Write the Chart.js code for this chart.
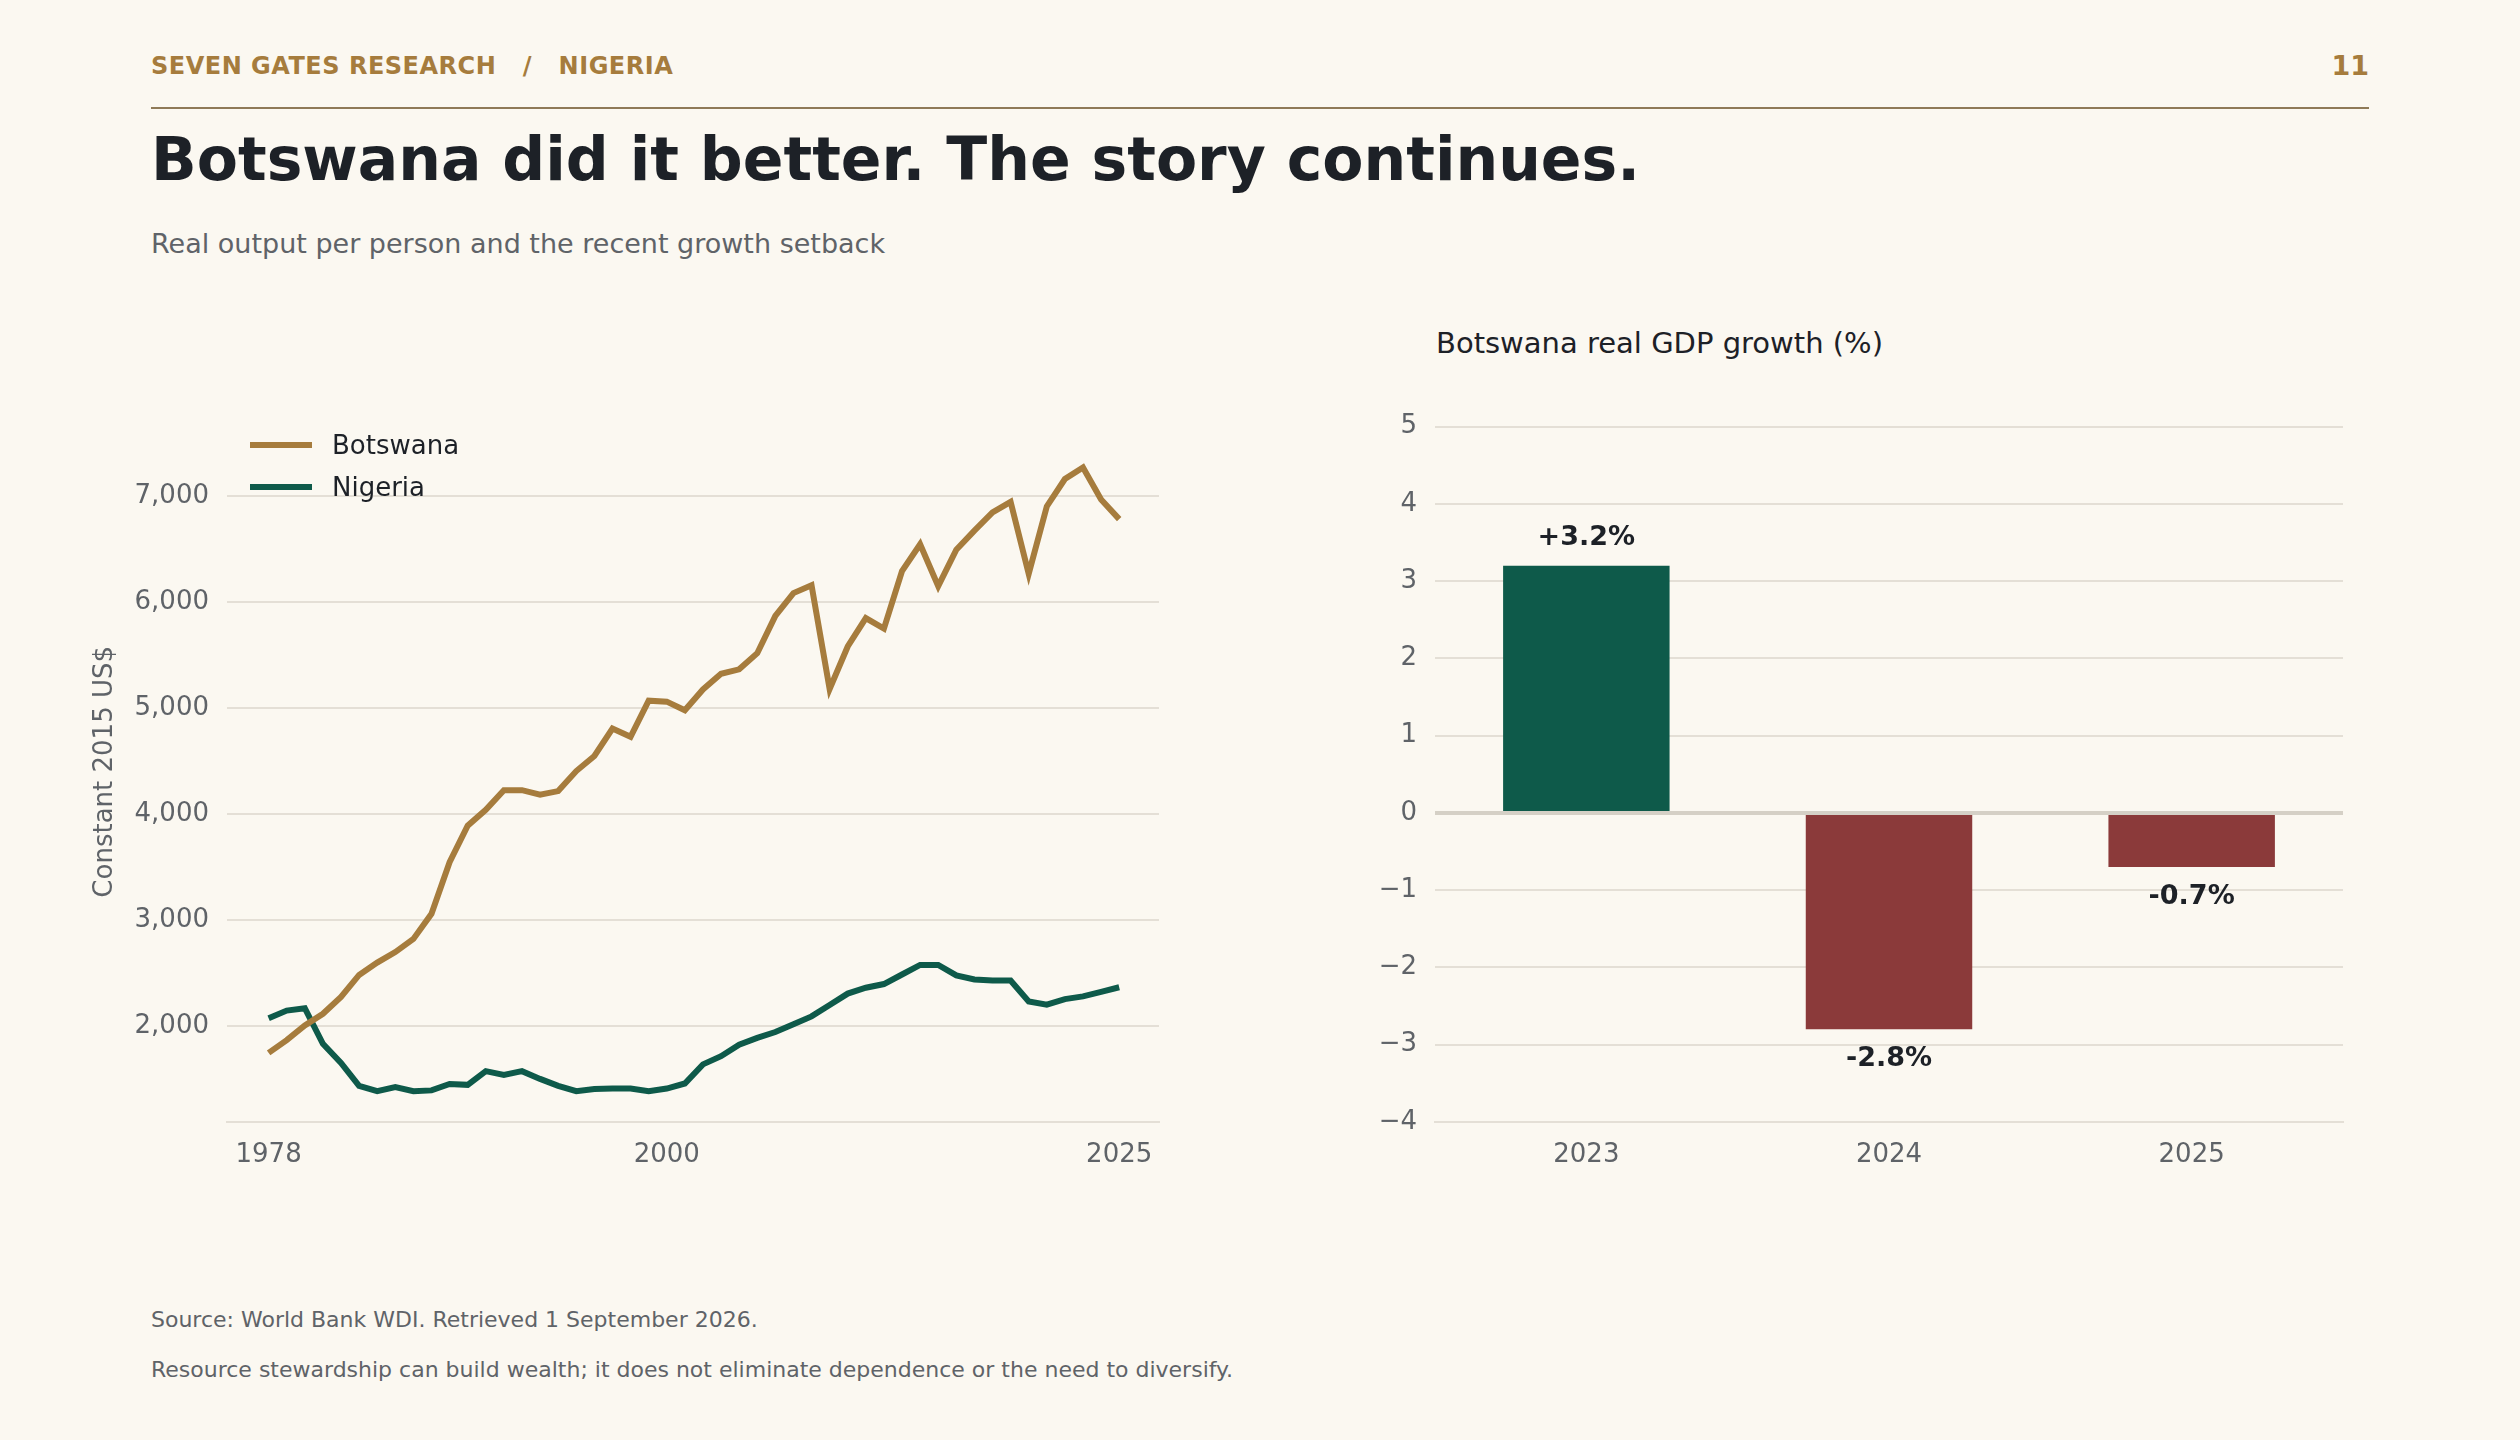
<!DOCTYPE html>
<html>
<head>
<meta charset="utf-8">
<script src="https://cdn.jsdelivr.net/npm/chart.js@4"></script>
<style>
    body { margin: 0; width: 2520px; height: 1440px; background: #fbf8f1; font-family: "DejaVu Sans", sans-serif; position: relative; overflow: hidden; }
    .abs { position: absolute; }
    .kicker { left: 151px; top: 52px; font-size: 24px; font-weight: bold; color: #a67c3d; letter-spacing: 0.5px; }
    .page_no { right: 151px; top: 50px; font-size: 27px; font-weight: bold; color: #a67c3d; }
    .rule { left: 151px; top: 107px; width: 2218px; height: 2px; background: #8f7a58; }
    .title { left: 151px; top: 124px; font-size: 60px; font-weight: bold; color: #1d2127; }
    .subtitle { left: 151px; top: 228px; font-size: 27px; color: #5f6368; }
    .right_title { left: 1436px; top: 326px; font-size: 29px; color: #1d2127; }
    .legend { left: 250px; top: 424px; font-size: 26px; color: #1d2127; }
    .legend div { display: flex; align-items: center; height: 42px; }
    .legend span { display: inline-block; width: 62px; height: 6px; margin-right: 20px; }
    .note { left: 151px; font-size: 22px; color: #5f6368; }
    canvas { position: absolute; }
</style>
</head>
<body>
<div class="abs kicker">SEVEN GATES RESEARCH &nbsp;&nbsp;/&nbsp;&nbsp; NIGERIA</div>
<div class="abs page_no">11</div>
<div class="abs rule"></div>
<div class="abs title">Botswana did it better. The story continues.</div>
<div class="abs subtitle">Real output per person and the recent growth setback</div>
<div class="abs right_title">Botswana real GDP growth (%)</div>

<canvas id="line_chart" width="1080" height="794" style="left:90px; top:388px;"></canvas>
<canvas id="bar_chart" width="993" height="789" style="left:1360px; top:393px;"></canvas>

<div class="abs legend">
    <div><span style="background:#a67c3d"></span>Botswana</div>
    <div><span style="background:#0e5a4a"></span>Nigeria</div>
</div>

<div class="abs note" style="top:1307px;">Source: World Bank WDI. Retrieved 1 September 2026.</div>
<div class="abs note" style="top:1357px;">Resource stewardship can build wealth; it does not eliminate dependence or the need to diversify.</div>

<script>
// data
const years = [];
for (let y = 1978; y <= 2025; y++) years.push(y);

const botswana = [1751, 1871, 2009, 2120, 2279, 2486, 2602, 2701, 2825, 3062,
    3548, 3892, 4042, 4227, 4227, 4184, 4218, 4407, 4549, 4807,
    4730, 5070, 5061, 4980, 5176, 5323, 5366, 5517, 5869, 6084,
    6157, 5181, 5581, 5848, 5749, 6291, 6544, 6149, 6493, 6673,
    6845, 6944, 6265, 6901, 7159, 7267, 6966, 6781];

const nigeria = [2078, 2150, 2172, 1837, 1656, 1441, 1390, 1428, 1390, 1398,
    1458, 1450, 1579, 1544, 1579, 1506, 1441, 1390, 1411, 1415,
    1415, 1390, 1415, 1463, 1643, 1720, 1828, 1892, 1948, 2021,
    2095, 2202, 2310, 2365, 2400, 2490, 2580, 2580, 2481, 2443,
    2434, 2434, 2236, 2206, 2258, 2284, 2327, 2370];

const yearTicks = [1978, 2000, 2025];
const valueTicks = [2000, 3000, 4000, 5000, 6000, 7000];

const growthYears = ['2023', '2024', '2025'];
const growthValues = [3.2, -2.8, -0.7];

const gridColor = '#e4dfd6';
const tickColor = '#5f6368';
const tickFont = { family: 'DejaVu Sans', size: 26 };

Chart.defaults.devicePixelRatio = 1;
Chart.defaults.animation = false;

//output per person line chart
new Chart(document.getElementById('line_chart'), {
    type: 'line',
    data: {
        datasets: [
            { label: 'Botswana', data: years.map((y, i) => ({ x: y, y: botswana[i] })), borderColor: '#a67c3d', borderWidth: 6 },
            { label: 'Nigeria', data: years.map((y, i) => ({ x: y, y: nigeria[i] })), borderColor: '#0e5a4a', borderWidth: 6 }
        ]
    },
    options: {
        responsive: false,
        clip: false,
        pointRadius: 0,
        layout: { padding: { right: 11 } },
        plugins: { legend: { display: false }, tooltip: { enabled: false } },
        scales: {
            x: {
                type: 'linear',
                min: 1975.7,
                max: 2027.2,
                afterBuildTicks: axis => { axis.ticks = yearTicks.map(v => ({ value: v })); },
                afterFit: axis => { axis.height = 60; },
                ticks: { color: tickColor, font: tickFont, padding: 10, callback: v => String(v) },
                grid: { display: false },
                border: { color: gridColor, width: 2 }
            },
            y: {
                min: 1100,
                max: 7700,
                afterBuildTicks: axis => { axis.ticks = valueTicks.map(v => ({ value: v })); },
                afterFit: axis => { axis.width = 137; },
                title: { display: true, text: 'Constant 2015 US$', color: tickColor, font: tickFont, padding: 0 },
                ticks: { color: tickColor, font: tickFont, padding: 18 },
                grid: { color: gridColor, lineWidth: 2, drawTicks: false },
                border: { display: false }
            }
        }
    }
});
//

//growth bars with value labels
const barLabels = {
    id: 'barLabels',
    afterDatasetsDraw(chart) {
        const ctx = chart.ctx;
        const meta = chart.getDatasetMeta(0);
        ctx.save();
        ctx.font = 'bold 27px "DejaVu Sans"';
        ctx.fillStyle = '#1d2127';
        ctx.textAlign = 'center';
        meta.data.forEach((bar, i) => {
            const v = growthValues[i];
            const text = (v > 0 ? '+' : '') + v.toFixed(1) + '%';
            if (v >= 0) {
                ctx.textBaseline = 'bottom';
                ctx.fillText(text, bar.x, bar.y - 14);
            } else {
                ctx.textBaseline = 'top';
                ctx.fillText(text, bar.x, bar.y + 16);
            }
        });
        ctx.restore();
    }
};

new Chart(document.getElementById('bar_chart'), {
    type: 'bar',
    data: {
        labels: growthYears,
        datasets: [{
            data: growthValues,
            backgroundColor: growthValues.map(v => v >= 0 ? '#0e5a4a' : '#8b3a3a'),
            categoryPercentage: 1,
            barPercentage: 0.55
        }]
    },
    options: {
        responsive: false,
        layout: { padding: { right: 10, top: 10 } },
        plugins: { legend: { display: false }, tooltip: { enabled: false } },
        scales: {
            x: {
                afterFit: axis => { axis.height = 60; },
                ticks: { color: tickColor, font: tickFont, padding: 10 },
                grid: { display: false },
                border: { color: gridColor, width: 2 }
            },
            y: {
                min: -4,
                max: 5,
                afterFit: axis => { axis.width = 75; },
                ticks: {
                    stepSize: 1,
                    color: tickColor,
                    font: tickFont,
                    padding: 18,
                    callback: v => v < 0 ? '\u2212' + Math.abs(v) : String(v)
                },
                grid: {
                    color: c => c.tick && c.tick.value === 0 ? '#d5d0c6' : gridColor,
                    lineWidth: c => c.tick && c.tick.value === 0 ? 4 : 2,
                    drawTicks: false
                },
                border: { display: false }
            }
        }
    },
    plugins: [barLabels]
});
//
</script>
</body>
</html>
